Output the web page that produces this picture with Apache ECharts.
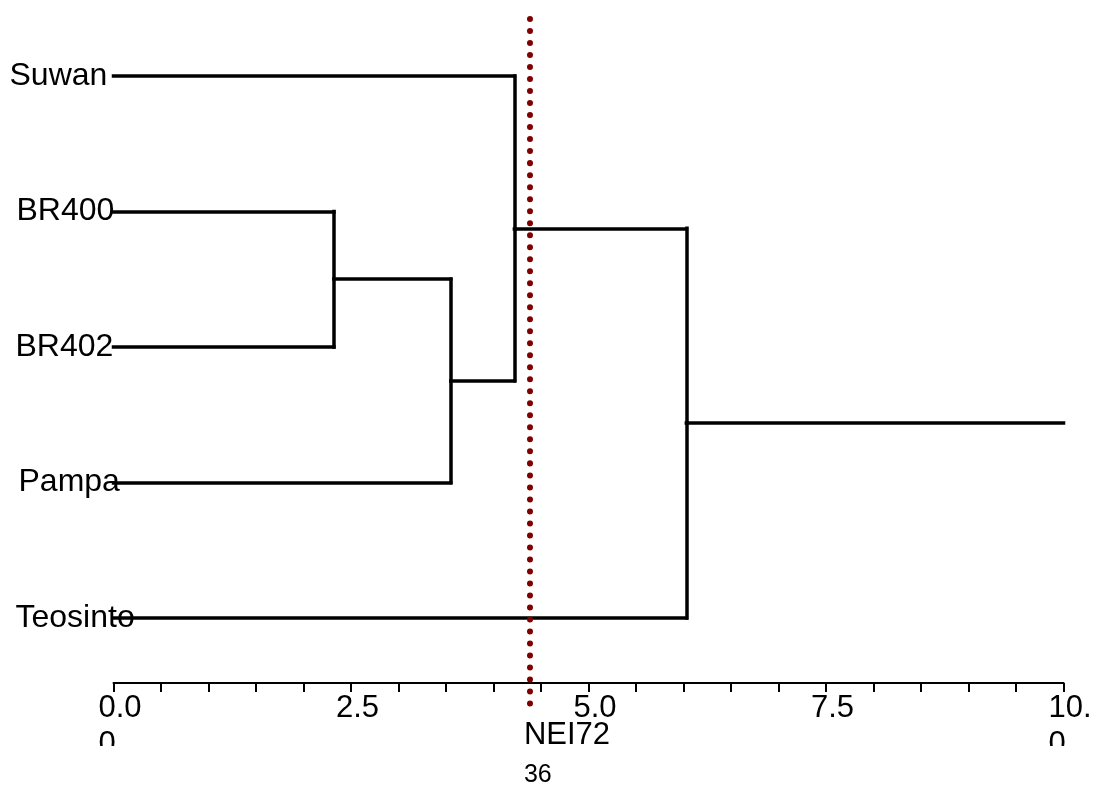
<!DOCTYPE html>
<html>
<head>
<meta charset="utf-8">
<script src="https://cdn.jsdelivr.net/npm/echarts@6/dist/echarts.min.js"></script>
<style>
html,body{margin:0;padding:0;background:#fff;}
#chart{width:1103px;height:785px;}
</style>
</head>
<body>
<div id="chart"></div>
<script>
// ---- data ----
const leafNames = ['Suwan', 'BR400', 'BR402', 'Pampa', 'Teosinto'];
const leafRows = [4, 3, 2, 1, 0];
// merges: node indices (0-4 are leaves, 5.. are clusters in creation order)
const mergeFirst = [1, 5, 0, 7];
const mergeSecond = [2, 3, 6, 4];
const mergeHeights = [2.32, 3.55, 4.22, 6.03];
const rootEnd = 10.0;
const cutLevel = 4.38;
const cutSpan = [-0.68, 4.42];
const xTickValues = [0, 2.5, 5, 7.5, 10];
const xTickLabels = ['0.0\n0', '2.5', '5.0', '7.5', '10.\n0'];
const axisTitleLines = ['NEI72', '36'];

// ---- styling (label indents, px) ----
const labelIndent = [0, 7, 6, 9, 6];

// ---- build dendrogram segments ----
const nodeX = leafRows.map(() => 0);
const nodeY = leafRows.slice();
const segs = [];
for (let i = 0; i < mergeHeights.length; i++) {
  const a = mergeFirst[i], b = mergeSecond[i], h = mergeHeights[i];
  segs.push([[nodeX[a], nodeY[a]], [h, nodeY[a]]]);
  segs.push([[nodeX[b], nodeY[b]], [h, nodeY[b]]]);
  segs.push([[h, nodeY[a]], [h, nodeY[b]]]);
  nodeX.push(h);
  nodeY.push((nodeY[a] + nodeY[b]) / 2);
}
const rootIdx = nodeX.length - 1;
segs.push([[nodeX[rootIdx], nodeY[rootIdx]], [rootEnd, nodeY[rootIdx]]]);

const FONT = '"Liberation Sans", Arial, sans-serif';
const leafRich = {};
labelIndent.forEach((p, i) => {
  leafRich['n' + i] = {fontSize: 32, fontFamily: FONT, color: '#000', padding: [0, 0, 0, p]};
});

const chart = echarts.init(document.getElementById('chart'), null, {renderer: 'canvas'});
chart.setOption({
  animation: false,
  backgroundColor: '#fff',
  grid: {left: 113.5, right: 39.5, top: 19, bottom: 102, containLabel: false, outerBoundsMode: 'none'},
  xAxis: {
    type: 'value',
    min: 0, max: 10, interval: 2.5,
    axisLine: {show: true, onZero: false, lineStyle: {color: '#000', width: 2}},
    axisTick: {show: true, length: 9, lineStyle: {color: '#000', width: 2}},
    minorTick: {show: true, splitNumber: 5, length: 9, lineStyle: {color: '#000', width: 2}},
    splitLine: {show: false},
    minorSplitLine: {show: false},
    axisLabel: {
      margin: 7,
      align: 'center',
      padding: [0, 0, 0, 13],
      formatter: function (v) {
        const i = xTickValues.findIndex(t => Math.abs(t - v) < 1e-6);
        const txt = i >= 0 ? xTickLabels[i] : '';
        return txt.split('\n').map(s => '{t|' + s + '}').join('\n');
      },
      rich: {t: {fontSize: 31, lineHeight: 36, fontFamily: FONT, color: '#000', align: 'left'}}
    },
    name: '{a|' + axisTitleLines[0] + '}\n{b|' + axisTitleLines[1] + '}',
    nameLocation: 'middle',
    nameGap: 37,
    nameMoveOverlap: false,
    nameTextStyle: {
      verticalAlign: 'top',
      align: 'center',
      padding: [0, 43, 0, 0],
      rich: {
        a: {fontSize: 31, lineHeight: 31, fontFamily: FONT, color: '#000', align: 'left'},
        b: {fontSize: 25, lineHeight: 48, fontFamily: FONT, color: '#000', align: 'left'}
      }
    }
  },
  yAxis: {
    type: 'value',
    min: -0.48, max: 4.42,
    axisLine: {show: false},
    axisTick: {show: false},
    splitLine: {show: false},
    axisLabel: {
      customValues: leafRows,
      margin: 104,
      align: 'left',
      fontSize: 32,
      fontFamily: FONT,
      color: '#000',
      formatter: function (v) {
        const i = leafRows.indexOf(Math.round(v));
        return i >= 0 ? '{n' + i + '|' + leafNames[i] + '}' : '';
      },
      rich: leafRich
    }
  },
  series: [
    {
      type: 'lines',
      coordinateSystem: 'cartesian2d',
      polyline: false,
      silent: true,
      z: 3,
      lineStyle: {color: '#000', width: 3.5, opacity: 1, cap: 'square'},
      data: segs.map(c => ({coords: c}))
    },
    {
      type: 'lines',
      coordinateSystem: 'cartesian2d',
      polyline: false,
      silent: true,
      clip: false,
      z: 5,
      lineStyle: {color: '#800000', width: 6, opacity: 1, type: [0.01, 12], cap: 'round'},
      data: [{coords: [[cutLevel, cutSpan[1]], [cutLevel, cutSpan[0]]]}]
    }
  ],
  graphic: [
    {type: 'rect', z: 100, shape: {x: 85, y: 746, width: 45, height: 16}, style: {fill: '#fff'}},
    {type: 'rect', z: 100, shape: {x: 1035, y: 746, width: 55, height: 16}, style: {fill: '#fff'}}
  ]
});
</script>
</body>
</html>
